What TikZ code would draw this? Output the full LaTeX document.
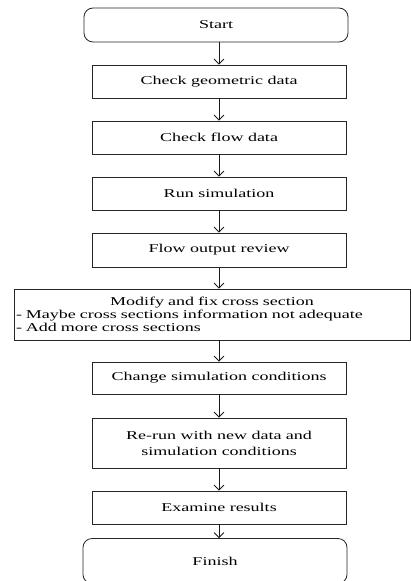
\documentclass[tikz,border=0pt]{standalone}
\usepackage{fontspec}
\setmainfont[FakeStretch=1.5]{Liberation Serif}
\usepackage{tikz}
\usetikzlibrary{arrows.meta}

\begin{document}
\begin{tikzpicture}[x=1pt,y=-1pt,
		font=\fontsize{12}{13}\selectfont,
		stepbox/.style={draw=black!85,line width=0.8pt,minimum width=254pt,minimum height=33pt,inner sep=0pt,align=center},
		endbox/.style={stepbox,rounded corners=9pt,minimum width=264pt},
		arr/.style={-{Straight Barb[length=5pt,width=10pt]},line width=0.8pt,black!90}]
			\useasboundingbox (0,0) rectangle (411,581);
			
			\node[endbox,minimum height=34pt] (start) at (216,25) {Start};
			\node[stepbox] (geo) at (219,81.5) {Check geometric data};
			\node[stepbox] (flow) at (219,137.5) {Check flow data};
			\node[stepbox] (run) at (219,193.5) {Run simulation};
			\node[stepbox,minimum height=34pt] (review) at (219,250) {Flow output review};
			\node[stepbox,minimum width=396pt,minimum height=51pt,text width=392pt,inner xsep=2pt,align=left] (modify) at (212,314.5)
				{\makebox[\linewidth][c]{Modify and fix cross section}\\- Maybe cross sections information not adequate\\- Add more cross sections};
			\node[stepbox,minimum height=32pt] (change) at (219,378) {Change simulation conditions};
			\node[stepbox,minimum height=50pt,font=\fontsize{12}{16}\selectfont] (rerun) at (219,443) {Re-run with new data and\\simulation conditions};
			\node[stepbox] (examine) at (219,507.5) {Examine results};
			\node[endbox,minimum height=45pt] (finish) at (215,561) {Finish};
			
			\draw[arr] (start.south -| geo.north) -- (geo.north);
			\draw[arr] (geo) -- (flow);
			\draw[arr] (flow) -- (run);
			\draw[arr] (run) -- (review);
			\draw[arr] (review.south) -- (review.south |- modify.north);
			\draw[arr] (modify.south -| change.north) -- (change.north);
			\draw[arr] (change) -- (rerun);
			\draw[arr] (rerun) -- (examine);
			\draw[arr] (examine.south) -- (examine.south |- finish.north);
		\end{tikzpicture}
\end{document}
